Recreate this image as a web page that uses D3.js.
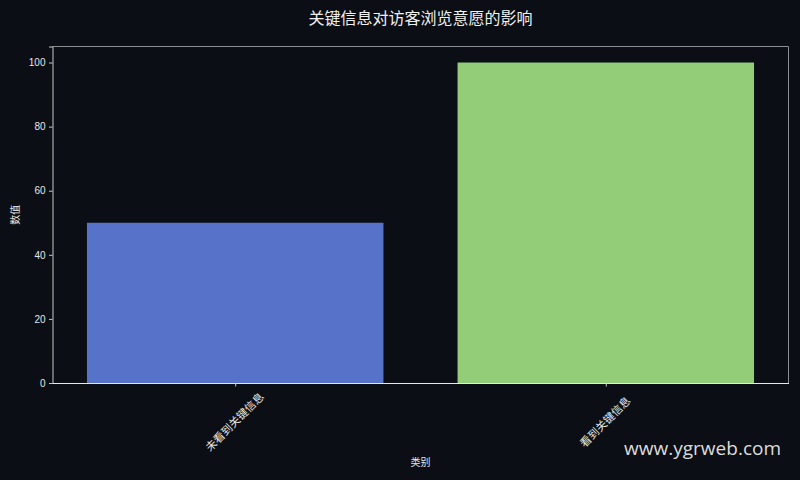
<!DOCTYPE html>
<html><head><meta charset="utf-8">
<script src="https://cdn.jsdelivr.net/npm/d3@7"></script>
<style>
html,body{margin:0;padding:0;background:#0b0e14;}
svg{display:block;}
</style>
</head><body>
<svg id="chart" width="800" height="480"></svg>
<script>
const categories = ["未看到关键信息", "看到关键信息"];
const values = [50, 100];
const barColors = ["#5773c9", "#93cd77"];
const yTicks = [0, 20, 40, 60, 80, 100];
const title = "关键信息对访客浏览意愿的影响";
const xLabel = "类别";
const yLabel = "数值";

const W = 800, H = 480;
const m = {left: 52.5, right: 788.5, top: 46.5, bottom: 383};
const svg = d3.select("#chart");
svg.append("rect").attr("width", W).attr("height", H).attr("fill", "#0b0e14");

const cjk = "'Noto Sans CJK SC', 'Liberation Sans', sans-serif";
const x = d3.scaleLinear().domain([-0.493, categories.length - 1 + 0.493]).range([m.left, m.right]);
const y = d3.scaleLinear().domain([0, 105]).range([m.bottom, m.top]);
const bw = x(0.4) - x(-0.4);

svg.append("g").selectAll("rect").data(values).join("rect")
  .attr("x", (d, i) => x(i) - bw / 2)
  .attr("y", d => y(d))
  .attr("width", bw)
  .attr("height", d => y(0) - y(d))
  .attr("fill", (d, i) => barColors[i]);

// spines
svg.append("line").attr("x1", m.left).attr("x2", m.right).attr("y1", m.top).attr("y2", m.top).attr("stroke", "#8a8d92").attr("stroke-width", 1);
svg.append("line").attr("x1", m.right).attr("x2", m.right).attr("y1", m.top).attr("y2", m.bottom).attr("stroke", "#8a8d92").attr("stroke-width", 1);

const yAxis = svg.append("g").attr("transform", `translate(${m.left},0)`)
  .call(d3.axisLeft(y).tickValues(yTicks).tickSize(3.5).tickPadding(3.5));
yAxis.select(".domain").attr("stroke", "#c8c8c8");
yAxis.selectAll(".tick line").attr("stroke", "#c8c8c8");
yAxis.selectAll("text").attr("fill", "#e6e6e6").style("font-family", "'Liberation Sans', Arial, sans-serif").style("font-size", "10px");

const xAxis = svg.append("g").attr("transform", `translate(0,${m.bottom})`)
  .call(d3.axisBottom(x).tickValues(d3.range(categories.length)).tickFormat(i => categories[i]).tickSize(3.5).tickSizeOuter(0));
xAxis.select(".domain").attr("stroke", "#e8e8e8");
xAxis.selectAll(".tick line").attr("stroke", "#c8c8c8");
xAxis.selectAll("text")
  .attr("fill", "#e6e6e6")
  .style("font-family", cjk).style("font-size", "11px")
  .attr("text-anchor", "middle")
  .attr("x", 0).attr("y", 0)
  .attr("dy", "0.35em")
  .attr("transform", "translate(-1,39) rotate(-45)");

svg.append("text").attr("x", (m.left + m.right) / 2).attr("y", 24)
  .attr("text-anchor", "middle").attr("fill", "#f0f0f0")
  .style("font-family", cjk).style("font-size", "16px").text(title);

svg.append("text").attr("x", (m.left + m.right) / 2).attr("y", 466)
  .attr("text-anchor", "middle").attr("fill", "#e6e6e6")
  .style("font-family", cjk).style("font-size", "10px").text(xLabel);

svg.append("text").attr("transform", `translate(19,${(m.top + m.bottom) / 2}) rotate(-90)`)
  .attr("text-anchor", "middle").attr("fill", "#e6e6e6")
  .style("font-family", cjk).style("font-size", "10px").text(yLabel);

svg.append("text").attr("x", 781).attr("y", 455)
  .attr("text-anchor", "end").attr("fill", "#dcdcdc")
  .style("font-family", "'Open Sans', 'Noto Sans', sans-serif").style("font-size", "19px").text("www.ygrweb.com");
</script>
</body></html>
